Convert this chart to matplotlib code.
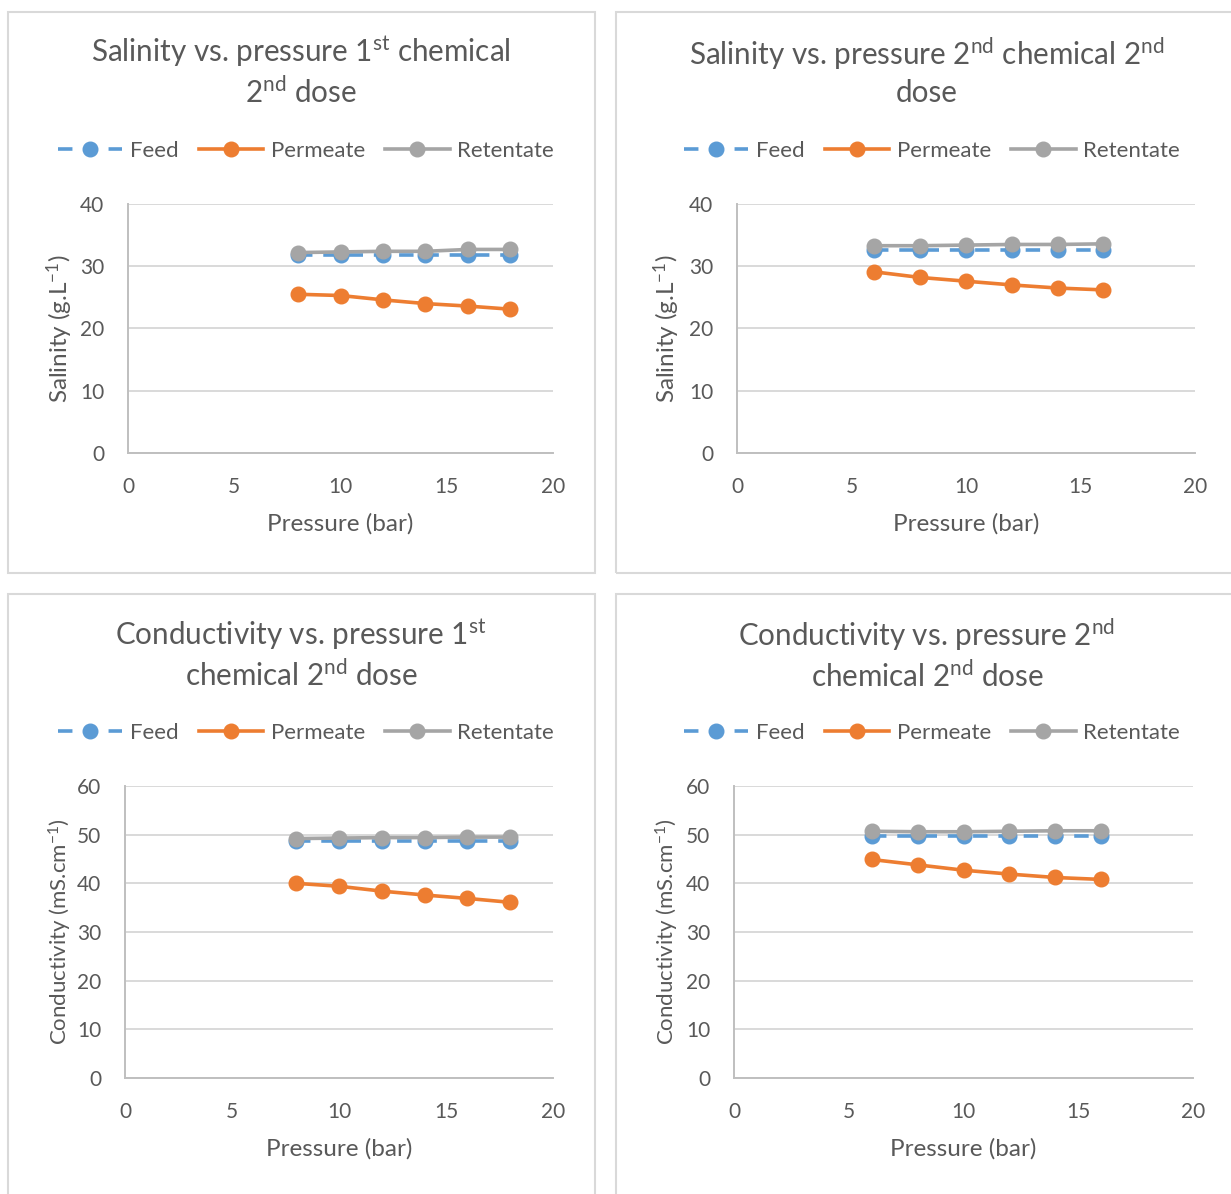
import numpy as np
import matplotlib
matplotlib.use("Agg")
import matplotlib.pyplot as plt
from matplotlib.patches import Rectangle

# === Data ===
pressure_1st = [8, 10, 12, 14, 16, 18]
pressure_2nd = [6, 8, 10, 12, 14, 16]

sal_feed_1st = [31.8, 31.8, 31.8, 31.8, 31.8, 31.8]
sal_perm_1st = [25.5, 25.3, 24.6, 24.0, 23.6, 23.1]
sal_ret_1st = [32.2, 32.3, 32.4, 32.4, 32.7, 32.7]

sal_feed_2nd = [32.6, 32.6, 32.6, 32.6, 32.6, 32.6]
sal_perm_2nd = [29.1, 28.2, 27.6, 27.0, 26.5, 26.2]
sal_ret_2nd = [33.3, 33.3, 33.4, 33.5, 33.5, 33.6]

cond_feed_1st = [48.7, 48.7, 48.7, 48.7, 48.7, 48.7]
cond_perm_1st = [40.0, 39.4, 38.4, 37.6, 36.9, 36.1]
cond_ret_1st = [49.2, 49.3, 49.4, 49.4, 49.5, 49.5]

cond_feed_2nd = [49.8, 49.8, 49.8, 49.8, 49.8, 49.8]
cond_perm_2nd = [44.9, 43.8, 42.7, 41.9, 41.2, 40.8]
cond_ret_2nd = [50.7, 50.6, 50.6, 50.7, 50.8, 50.8]

series_names = ["Feed", "Permeate", "Retentate"]

# === Style ===
W, H = 1231, 1194
TXT = "#595959"
BLUE, ORANGE, GREY = "#5B9BD5", "#ED7D31", "#A5A5A5"

plt.rcParams["font.family"] = ["Lato", "DejaVu Sans"]
plt.rcParams["mathtext.fontset"] = "custom"
plt.rcParams["mathtext.rm"] = "Lato"
plt.rcParams["mathtext.it"] = "Lato"
plt.rcParams["mathtext.default"] = "rm"

fig = plt.figure(figsize=(W / 100, H / 100), dpi=100)


def px_box(x0, y0, x1, y1):
    # pixel box (top-left origin) -> figure fraction [l, b, w, h]
    return [x0 / W, 1 - y1 / H, (x1 - x0) / W, (y1 - y0) / H]


panels = [
    # title, ylabel, ylabel size, x, feed, perm, ret, ymax, axes box, panel box, title center
    ("Salinity vs. pressure 1$^{st}$ chemical\n2$^{nd}$ dose", "Salinity (g.L$^{-1}$)", 17.5,
     pressure_1st, sal_feed_1st, sal_perm_1st, sal_ret_1st, 40,
     (128, 204, 553, 453), (8, 12, 595, 573), 301),
    ("Salinity vs. pressure 2$^{nd}$ chemical 2$^{nd}$\ndose", "Salinity (g.L$^{-1}$)", 17.5,
     pressure_2nd, sal_feed_2nd, sal_perm_2nd, sal_ret_2nd, 40,
     (737, 204, 1195, 453), (616, 12, 1240, 573), 927),
    ("Conductivity vs. pressure 1$^{st}$\nchemical 2$^{nd}$ dose", "Conductivity (mS.cm$^{-1}$)", 16,
     pressure_1st, cond_feed_1st, cond_perm_1st, cond_ret_1st, 60,
     (125, 786, 553, 1078), (8, 594, 595, 1200), 301),
    ("Conductivity vs. pressure 2$^{nd}$\nchemical 2$^{nd}$ dose", "Conductivity (mS.cm$^{-1}$)", 16,
     pressure_2nd, cond_feed_2nd, cond_perm_2nd, cond_ret_2nd, 60,
     (734, 786, 1193, 1078), (616, 594, 1240, 1200), 927),
]

for title, ylab, ylab_fs, x, feed, perm, ret, ymax, abox, pbox, tcx in panels:
    top_row = pbox[1] < 300
    # panel border
    l, b, w, h = px_box(*pbox)
    fig.patches.append(Rectangle((l, b), w, h, transform=fig.transFigure,
                                 fill=False, edgecolor="#D9D9D9", linewidth=1.5))

    ax = fig.add_axes(px_box(*abox))
    l1, = ax.plot(x, feed, color=BLUE, linewidth=2.6, linestyle=(0, (4, 3)),
                  marker="o", markersize=10.5, label=series_names[0], zorder=3)
    l2, = ax.plot(x, perm, color=ORANGE, linewidth=2.6, marker="o", markersize=10.5,
                  label=series_names[1], zorder=3)
    l3, = ax.plot(x, ret, color=GREY, linewidth=2.6, marker="o", markersize=10.5,
                  label=series_names[2], zorder=4)

    ax.set_xlim(0, 20)
    ax.set_ylim(0, ymax)
    ax.set_xticks(np.arange(0, 21, 5))
    ax.set_yticks(np.arange(0, ymax + 1, 10))
    ax.yaxis.grid(True, color="#D9D9D9", linewidth=1.4)
    ax.set_axisbelow(True)
    for s in ["top", "right"]:
        ax.spines[s].set_visible(False)
    for s in ["left", "bottom"]:
        ax.spines[s].set_color("#BFBFBF")
        ax.spines[s].set_linewidth(1.4)
    ax.tick_params(axis="both", length=0, labelsize=15, labelcolor=TXT)
    ax.tick_params(axis="y", pad=17)
    ax.tick_params(axis="x", pad=17.5)

    ah = abox[3] - abox[1]
    ax.set_xlabel("Pressure (bar)", fontsize=17.5, color=TXT)
    xlab_y = 524 if top_row else 1149
    ax.xaxis.set_label_coords(0.5, (abox[3] - xlab_y) / ah)
    ax.xaxis.label.set_verticalalignment("center")
    ax.set_ylabel(ylab, fontsize=ylab_fs, color=TXT)
    ylab_x = 60 if abox[0] < 400 else 667
    ax.yaxis.set_label_coords((ylab_x - abox[0]) / (abox[2] - abox[0]), 0.5)
    ax.yaxis.label.set_verticalalignment("center")

    # title, centred on the panel
    ty = 71 if top_row else 654
    fig.text(tcx / W, 1 - ty / H, title, ha="center", va="center", fontsize=21.3,
             color=TXT, linespacing=1.3)

    # legend above the plot area
    ly = 151 if top_row else 733
    ax.legend(handles=[l1, l2, l3], loc="center", bbox_to_anchor=(tcx / W + 0.004, 1 - ly / H),
              bbox_transform=fig.transFigure, ncol=3, frameon=False, fontsize=16,
              labelcolor=TXT, handlelength=2.9, handletextpad=0.35, columnspacing=0.9)

fig.savefig("out.png", dpi=100)
